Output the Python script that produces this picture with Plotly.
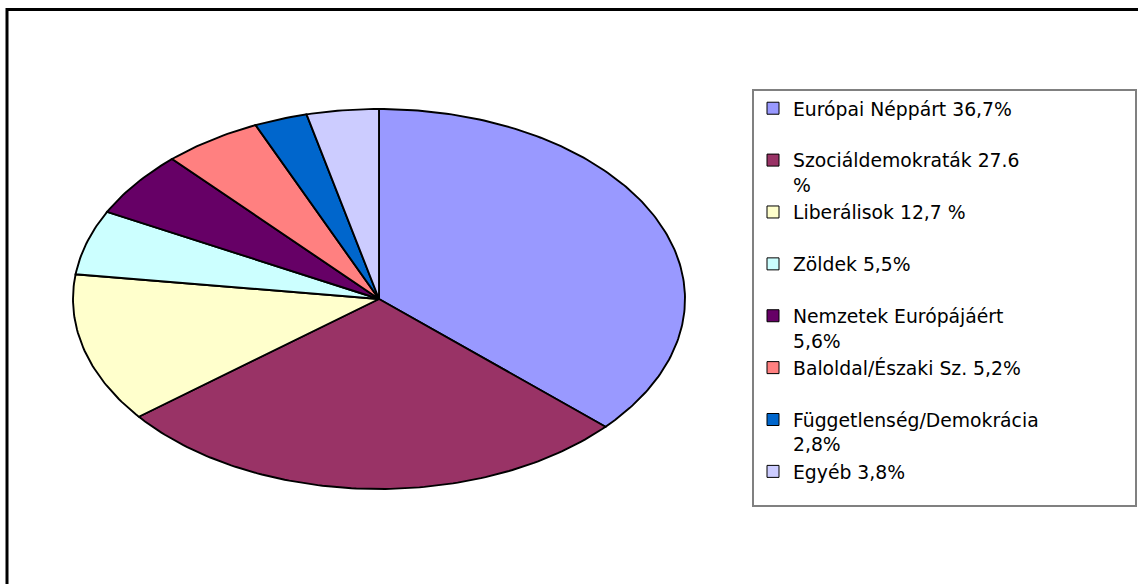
import numpy as np
import plotly.graph_objects as go

labels = [
    "Európai Néppárt 36,7%",
    "Szociáldemokraták 27.6<br>%",
    "Liberálisok 12,7 %",
    "Zöldek 5,5%",
    "Nemzetek Európájáért<br>5,6%",
    "Baloldal/Északi Sz. 5,2%",
    "Függetlenség/Demokrácia<br>2,8%",
    "Egyéb 3,8%",
]
values = [36.7, 27.6, 12.7, 5.5, 5.6, 5.2, 2.8, 3.8]
colors = ["#9999FF", "#993366", "#FFFFCC", "#CCFFFF", "#660066", "#FF8080", "#0066CC", "#CCCCFF"]

W, H = 1138, 584
fig = go.Figure()

vals = np.array(values, dtype=float)
frac = vals / vals.sum()
edges = np.concatenate([[0.0], np.cumsum(frac)]) * 2 * np.pi

# slices drawn clockwise from 12 o'clock on an elliptical (non-square) axis
for i in range(len(values)):
    th = np.linspace(edges[i], edges[i + 1], max(int(frac[i] * 400), 8))
    xs = np.concatenate([[0.0], np.sin(th), [0.0]])
    ys = np.concatenate([[0.0], np.cos(th), [0.0]])
    fig.add_trace(go.Scatter(
        x=xs, y=ys, mode="lines", fill="toself", fillcolor=colors[i],
        line=dict(color="black", width=1.9), showlegend=False, hoverinfo="skip"))

for i in range(len(values)):
    lab = labels[i] if "<br>" in labels[i] else labels[i] + "<br>&nbsp;"
    fig.add_trace(go.Scatter(
        x=[None], y=[None], mode="markers", name=lab, legendgroup=str(i),
        marker=dict(symbol="square", size=12, color=colors[i],
                    line=dict(color="black", width=1))))

# pie ellipse geometry in pixels
cx, cy, a, b = 379, 299, 306, 190
px, py = 1.02, 1.03
# legend box in pixels
lx0, lx1, ly0, ly1 = 753, 1136, 90, 506

fig.update_layout(
    width=W, height=H,
    margin=dict(l=0, r=0, t=0, b=0),
    paper_bgcolor="white", plot_bgcolor="rgba(0,0,0,0)",
    xaxis=dict(range=[-px, px], domain=[(cx - a * px) / W, (cx + a * px) / W],
               visible=False, fixedrange=True),
    yaxis=dict(range=[-py, py], domain=[(H - cy - b * py) / H, (H - cy + b * py) / H],
               visible=False, fixedrange=True),
    legend=dict(
        x=lx0 / W, y=(H - 89.5) / H, xanchor="left", yanchor="top",
        bgcolor="rgba(0,0,0,0)", borderwidth=0,
        font=dict(family="DejaVu Sans, Arial, sans-serif", size=18.8, color="black"),
        traceorder="grouped", tracegroupgap=0, valign="top",
    ),
    shapes=[
        dict(type="rect", xref="paper", yref="paper", layer="below",
             x0=lx0 / W, x1=lx1 / W, y0=(H - ly1) / H, y1=(H - ly0) / H,
             fillcolor="white", line=dict(color="#808080", width=2)),
        dict(type="line", xref="paper", yref="paper", x0=7 / W, x1=1.0,
             y0=(H - 9.5) / H, y1=(H - 9.5) / H, line=dict(color="black", width=3)),
        dict(type="line", xref="paper", yref="paper", x0=7 / W, x1=7 / W,
             y0=0, y1=(H - 8) / H, line=dict(color="black", width=3)),
    ],
)

fig.write_html("out.html", config={"displayModeBar": False},
               post_script="document.body.style.margin='0px';")
